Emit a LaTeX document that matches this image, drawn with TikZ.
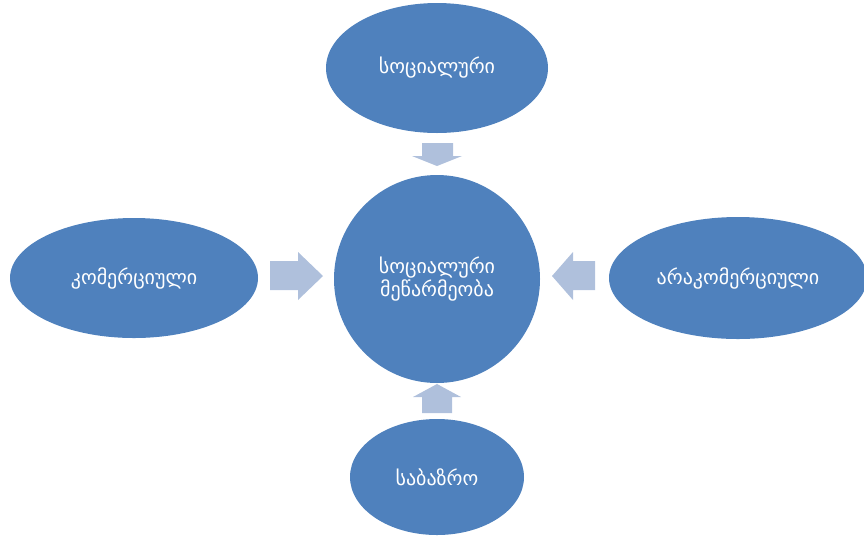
\documentclass[tikz,border=0pt]{standalone}
\usepackage{fontspec}
\newfontfamily\geo{DejaVu Sans}
\usetikzlibrary{shapes.geometric}
\definecolor{blob}{HTML}{4F81BD}
\definecolor{arr}{HTML}{AFC0DC}
\tikzset{
  blobnode/.style={ellipse, fill=blob, draw=none, inner sep=0pt, text=white, font=\geo\fontsize{20}{23}\selectfont, align=center},
  arrowfill/.style={fill=arr, draw=none}
}
\begin{document}
\begin{tikzpicture}[x=1pt,y=-1pt]
\useasboundingbox (0,0) rectangle (864,542);
\node[blobnode, minimum width=222pt, minimum height=130pt] (top) at (437,68) {სოციალური};
\node[blobnode, minimum width=206pt, minimum height=208pt] (center) at (437,279) {სოციალური\\მეწარმეობა};
\node[blobnode, minimum width=248pt, minimum height=120pt] (left) at (134,278) {კომერციული};
\node[blobnode, minimum width=258pt, minimum height=122pt] (right) at (738,278) {არაკომერციული};
\node[blobnode, minimum width=174pt, minimum height=116pt] (bottom) at (437,477) {საბაზრო};
% block arrows
\fill[arrowfill] (422,143) -- (453,143) -- (453,156) -- (462,156) -- (437,166) -- (412,156) -- (422,156) -- cycle;
\fill[arrowfill] (270,261) -- (298,261) -- (298,252) -- (323,276) -- (298,300) -- (298,290) -- (270,290) -- cycle;
\fill[arrowfill] (595,261) -- (573,261) -- (573,252) -- (552,276) -- (573,300) -- (573,290) -- (595,290) -- cycle;
\fill[arrowfill] (422,413) -- (452,413) -- (452,397) -- (461,397) -- (437,384) -- (413,397) -- (422,397) -- cycle;
\end{tikzpicture}
\end{document}
